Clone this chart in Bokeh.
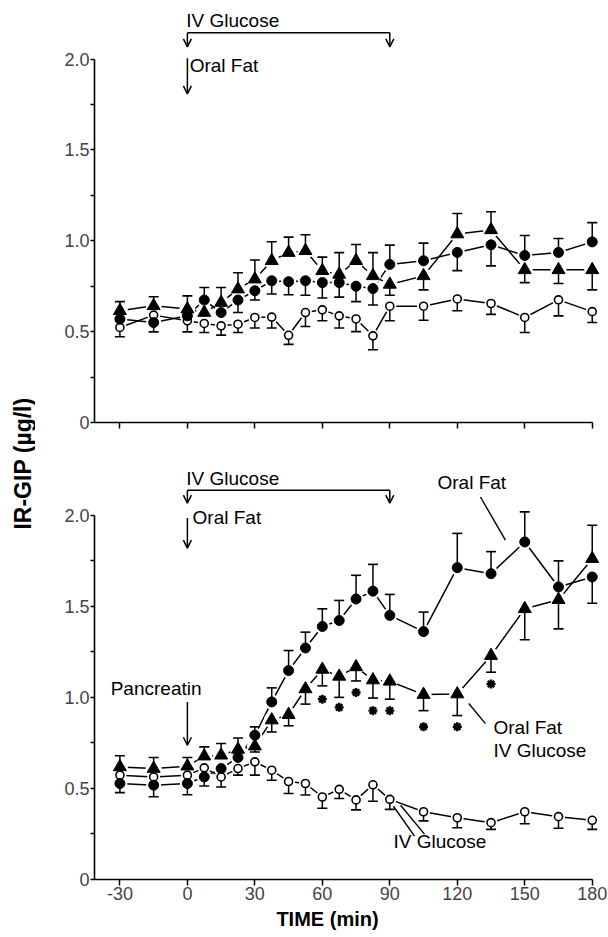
import numpy as np
from bokeh.plotting import figure
from bokeh.layouts import row, column
from bokeh.models import FixedTicker, Label, Arrow, OpenHead
from bokeh.core.properties import value
from bokeh.embed import file_html
from bokeh.resources import INLINE

FONT = "Liberation Sans"

# ---------------- data ----------------
TIME = [-30, -15, 0, 7.5, 15, 22.5, 30, 37.5, 45, 52.5, 60, 67.5, 75, 82.5, 90,
        105, 120, 135, 150, 165, 180]

X_TICKS = [-30, 0, 30, 60, 90, 120, 150, 180]
X_TICK_LABELS = ["-30", "0", "30", "60", "90", "120", "150", "180"]
Y_TICKS = [0, 0.5, 1.0, 1.5, 2.0]
Y_TICK_LABELS = ["0", "0.5", "1.0", "1.5", "2.0"]
Y_MINOR = [0.25, 0.75, 1.25, 1.75]

# upper panel (without pancreatin)
TOP_FAT_GLU = [0.615, 0.642, 0.624, 0.605, 0.66, 0.734, 0.789, 0.89, 0.935, 0.945, 0.835,
               0.815, 0.89, 0.807, 0.76, 0.807, 1.037, 1.06, 0.84, 0.84, 0.84]
TOP_FAT_GLU_HI = [0.05, 0.05, 0.073, 0, 0.083, 0.09, 0.105, 0.105, 0.085, 0.088, 0.075,
                  0.12, 0.09, 0.128, 0, 0, 0.113, 0.10, 0, 0, 0]
TOP_FAT_GLU_LO = [0, 0, 0, 0, 0, 0, 0, 0, 0, 0, 0, 0, 0, 0, 0.06, 0.077, 0, 0,
                  0.07, 0.075, 0.11]

TOP_FAT = [0.569, 0.55, 0.587, 0.674, 0.605, 0.674, 0.725, 0.78, 0.775, 0.78, 0.77,
           0.77, 0.75, 0.737, 0.87, 0.89, 0.936, 0.978, 0.919, 0.936, 0.994]
TOP_FAT_HI = [0, 0, 0, 0.069, 0, 0, 0, 0, 0, 0, 0, 0, 0, 0, 0.106, 0.097, 0, 0,
              0.11, 0.077, 0.106]
TOP_FAT_LO = [0, 0.051, 0, 0, 0, 0.069, 0.051, 0.073, 0.072, 0.08, 0.085, 0.08, 0.085,
              0.09, 0, 0, 0.10, 0.116, 0, 0, 0]

TOP_GLU = [0.523, 0.591, 0.56, 0.545, 0.532, 0.541, 0.578, 0.58, 0.48, 0.605, 0.62,
           0.587, 0.57, 0.477, 0.64, 0.64, 0.68, 0.655, 0.578, 0.675, 0.61]
TOP_GLU_LO = [0.051, 0, 0.061, 0.05, 0.051, 0.046, 0.058, 0.06, 0.05, 0.077, 0.06,
              0.067, 0.07, 0.077, 0.08, 0.077, 0.065, 0.06, 0.083, 0.088, 0.06]

# lower panel (with pancreatin)
BOT_FAT_GLU = [0.618, 0.609, 0.622, 0.677, 0.682, 0.714, 0.732, 0.875, 0.905, 1.046,
               1.153, 1.115, 1.167, 1.095, 1.088, 1.015, 1.018, 1.229, 1.486, 1.536, 1.761]
BOT_FAT_GLU_HI = [0.061, 0.061, 0.048, 0.051, 0.065, 0.063, 0, 0, 0, 0, 0, 0, 0, 0, 0,
                  0, 0, 0, 0, 0, 0.184]
BOT_FAT_GLU_LO = [0, 0, 0, 0, 0, 0, 0.032, 0.065, 0.061, 0.083, 0.09, 0.115, 0.077,
                  0.099, 0.098, 0.088, 0.118, 0.091, 0.17, 0.16, 0]

BOT_FAT = [0.527, 0.518, 0.527, 0.563, 0.609, 0.67, 0.792, 0.975, 1.147, 1.271, 1.389,
           1.422, 1.54, 1.583, 1.45, 1.361, 1.712, 1.679, 1.853, 1.606, 1.661]
BOT_FAT_HI = [0, 0, 0, 0, 0, 0, 0.046, 0.077, 0.11, 0.087, 0.097, 0.11, 0.13, 0.147,
              0.115, 0.107, 0.188, 0.121, 0.165, 0.143, 0]
BOT_FAT_LO = [0.05, 0.064, 0.062, 0.05, 0, 0, 0, 0, 0, 0, 0, 0, 0, 0, 0, 0, 0, 0, 0, 0,
              0.144]

BOT_GLU = [0.573, 0.563, 0.573, 0.613, 0.563, 0.609, 0.646, 0.60, 0.538, 0.527, 0.453,
           0.495, 0.437, 0.52, 0.44, 0.372, 0.339, 0.312, 0.372, 0.345, 0.325]
BOT_GLU_LO = [0, 0, 0, 0, 0.055, 0.036, 0.073, 0.055, 0.066, 0.063, 0.062, 0.05, 0.055,
              0.09, 0.055, 0.05, 0.055, 0.037, 0.066, 0.064, 0.05]

SIG_TIME = [60, 67.5, 75, 82.5, 90, 105, 120, 135]
SIG_Y = [0.99, 0.945, 1.027, 0.927, 0.927, 0.839, 0.839, 1.073]

ZEROS = [0] * len(TIME)

# ---------------- layout ----------------
X_START, X_END = -41.3, 185.9
LABEL_W = 35
PANEL_W = 573
TOP_H, TOP_B = 458, 36
BOT_H, BOT_B = 450, 29
TIME_H = 937 - TOP_H - BOT_H
TOP_YEND = (TOP_H - TOP_B) / 181.7
BOT_YEND = (BOT_H - BOT_B) / 182.15


def make_panel(height, border_bottom, y_end, show_x_labels):
    p = figure(width=PANEL_W, height=height, x_range=(X_START, X_END), y_range=(0, y_end),
               output_backend="svg", toolbar_location=None,
               min_border_left=59, min_border_right=3, min_border_top=0,
               min_border_bottom=border_bottom)
    p.grid.visible = False
    p.outline_line_color = None
    p.background_fill_color = "white"
    p.border_fill_color = "white"

    xa = p.xaxis[0]
    xa.ticker = FixedTicker(ticks=X_TICKS, minor_ticks=[])
    xa.major_label_overrides = dict(zip(X_TICKS, X_TICK_LABELS))
    xa.bounds = (X_START, 180)
    xa.axis_line_width = 1.6
    xa.major_tick_line_width = 1.5
    xa.major_tick_in = 0
    xa.major_tick_out = 6
    xa.minor_tick_line_color = None
    xa.major_label_text_font = FONT
    xa.major_label_text_font_size = "18px"
    xa.major_label_standoff = 1
    if not show_x_labels:
        xa.major_label_text_color = None

    ya = p.yaxis[0]
    ya.ticker = FixedTicker(ticks=Y_TICKS, minor_ticks=Y_MINOR)
    ya.major_label_overrides = dict(zip(Y_TICKS, Y_TICK_LABELS))
    ya.bounds = (0, 2.0)
    ya.axis_line_width = 1.6
    ya.major_tick_line_width = 1.5
    ya.minor_tick_line_width = 1.5
    ya.major_tick_in = 0
    ya.major_tick_out = 4
    ya.minor_tick_in = 0
    ya.minor_tick_out = 4
    ya.major_label_text_font = FONT
    ya.major_label_text_font_size = "18px"
    ya.major_label_standoff = 1
    return p


def draw_series(p, series):
    t = np.array(TIME, dtype=float)
    for s in series:
        p.line(TIME, s["y"], line_color="black", line_width=1.5)
    for s in series:
        p.scatter(TIME, s["y"], marker="circle", size=s["halo"], fill_color="white",
                  line_color=None)
    for s in series:
        y = np.array(s["y"], dtype=float)
        for err, sign in ((np.array(s["hi"], dtype=float), 1), (np.array(s["lo"], dtype=float), -1)):
            m = err > 0
            if not m.any():
                continue
            ye = y[m] + sign * err[m]
            p.segment(t[m], y[m], t[m], ye, line_color="black", line_width=1.5)
            p.scatter(t[m], ye, marker="dash", size=10, line_color="black", line_width=1.6)
    for s in series:
        p.scatter(TIME, s["y"], marker=s["marker"], size=s["size"], fill_color=s["fill"],
                  line_color="black", line_width=s["lw"])


def add_text(p, x, y, txt, size="19px", align="left"):
    p.add_layout(Label(x=x, y=y, text=txt, text_font=FONT, text_font_size=size,
                       text_align=align, text_baseline="middle", text_color="black"))


def add_arrow(p, x0, y0, x1, y1):
    p.add_layout(Arrow(end=OpenHead(size=8, line_width=1.5, line_color="black"),
                       x_start=x0, y_start=y0, x_end=x1, y_end=y1,
                       line_width=1.5, line_color="black"))


# ---------------- upper panel ----------------
top = make_panel(TOP_H, TOP_B, TOP_YEND, False)
draw_series(top, [
    dict(y=TOP_GLU, hi=ZEROS, lo=TOP_GLU_LO, marker="circle", size=8, fill="white", lw=1.6, halo=13),
    dict(y=TOP_FAT, hi=TOP_FAT_HI, lo=TOP_FAT_LO, marker="circle", size=10, fill="black", lw=1, halo=15),
    dict(y=TOP_FAT_GLU, hi=TOP_FAT_GLU_HI, lo=TOP_FAT_GLU_LO, marker="triangle", size=13, fill="black", lw=1, halo=16),
])
add_text(top, -0.5, 2.21, "IV Glucose")
top.segment(0, 2.145, 90, 2.145, line_color="black", line_width=1.5)
add_arrow(top, 0, 2.145, 0, 2.067)
add_arrow(top, 90, 2.145, 90, 2.067)
add_text(top, 1.0, 1.963, "Oral Fat")
add_arrow(top, 0, 2.005, 0, 1.809)

# ---------------- lower panel ----------------
bot = make_panel(BOT_H, BOT_B, BOT_YEND, True)
draw_series(bot, [
    dict(y=BOT_GLU, hi=ZEROS, lo=BOT_GLU_LO, marker="circle", size=8, fill="white", lw=1.6, halo=13),
    dict(y=BOT_FAT, hi=BOT_FAT_HI, lo=BOT_FAT_LO, marker="circle", size=10, fill="black", lw=1, halo=15),
    dict(y=BOT_FAT_GLU, hi=BOT_FAT_GLU_HI, lo=BOT_FAT_GLU_LO, marker="triangle", size=13, fill="black", lw=1, halo=16),
])
bot.scatter(SIG_TIME, SIG_Y, marker="asterisk", size=9, line_color="black", line_width=2.4)

add_text(bot, -0.5, 2.203, "IV Glucose")
bot.segment(0, 2.137, 90, 2.137, line_color="black", line_width=1.5)
add_arrow(bot, 0, 2.137, 0, 2.066)
add_arrow(bot, 90, 2.137, 90, 2.066)
add_text(bot, 2.3, 1.989, "Oral Fat")
add_arrow(bot, 0, 1.984, 0, 1.819)
add_text(bot, -34.1, 1.05, "Pancreatin")
add_arrow(bot, 0, 0.974, 0, 0.737)

add_text(bot, 111.2, 2.18, "Oral Fat")
bot.segment(130.3, 2.10, 141.4, 1.863, line_color="black", line_width=1.4)
add_text(bot, 136.1, 0.837, "Oral Fat")
add_text(bot, 136.1, 0.71, "IV Glucose")
bot.segment(125.1, 0.966, 132.5, 0.856, line_color="black", line_width=1.4)
add_text(bot, 91.6, 0.206, "IV Glucose")
bot.segment([91.6, 94.8], [0.402, 0.408], [101.0, 105.4], [0.238, 0.249],
            line_color="black", line_width=1.4)

# ---------------- x-axis title strip ----------------
tfig = figure(width=PANEL_W, height=TIME_H, x_range=(X_START, X_END), y_range=(0, TIME_H),
              output_backend="svg", toolbar_location=None, x_axis_type=None,
              y_axis_type=None, min_border_left=59, min_border_right=3,
              min_border_top=0, min_border_bottom=0)
tfig.grid.visible = False
tfig.outline_line_color = None
tfig.text(x=[62.3], y=[TIME_H - 10], text=["TIME (min)"], text_font=value(FONT),
          text_font_size="20px", text_font_style="bold", text_align="center",
          text_baseline="middle", text_color="black")

# ---------------- shared y label ----------------
lab = figure(width=LABEL_W, height=937, x_range=(0, LABEL_W), y_range=(0, 937),
             output_backend="svg", toolbar_location=None, x_axis_type=None,
             y_axis_type=None, min_border=0)
lab.grid.visible = False
lab.outline_line_color = None
lab.text(x=[22], y=[937 - 463], text=["IR-GIP (µg/l)"], angle=np.pi / 2,
         text_font=value(FONT), text_font_size="23px", text_font_style="bold",
         text_align="center", text_baseline="middle", text_color="black")

layout = row(lab, column(top, bot, tfig))
open("out.html", "w").write(file_html(layout, INLINE))
